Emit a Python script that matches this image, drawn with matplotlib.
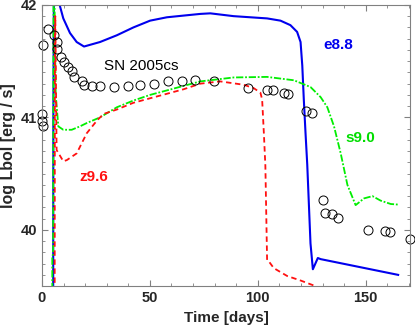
import numpy as np
import matplotlib
matplotlib.use("Agg")
import matplotlib.pyplot as plt
from matplotlib.ticker import MultipleLocator

plt.rcParams['font.family'] = ['Liberation Sans', 'DejaVu Sans']

# observed SN 2005cs bolometric light curve
obs_t = [-0.1, 0.0, 0.3, 0.3, 2.6, 5.6, 6.8, 7.1, 8.8, 10.4, 12.2, 13.8, 15.0, 18.4, 19.5,
         23.2, 26.9, 33.4, 39.8, 45.2, 51.7, 58.4, 64.9, 71.0, 79.5, 95.3, 104.3, 107.1,
         112.3, 113.9, 122.2, 124.9, 130.0, 130.9, 134.2, 137.3, 151.2, 158.8, 161.1, 170.3]
obs_L = [41.03, 40.97, 40.92, 41.64, 41.79, 41.73, 41.67, 41.61, 41.54, 41.49, 41.45, 41.41,
         41.36, 41.32, 41.29, 41.28, 41.28, 41.27, 41.28, 41.29, 41.30, 41.32, 41.32, 41.33,
         41.32, 41.26, 41.24, 41.24, 41.22, 41.21, 41.055, 41.035, 40.27, 40.15, 40.14,
         40.11, 40.00, 39.99, 39.98, 39.92]

# model e8.8
e88_t = [5.2, 5.3, 5.6, 7.5, 9.9, 13.0, 16.1, 19.5, 26.9, 34.7, 42.4, 50.1, 57.9, 65.6,
         73.4, 78.0, 88.8, 104.3, 110.5, 115.1, 118.2, 119.8, 120.6, 121.3, 122.1, 122.9,
         124.4, 125.5, 127.8, 129.1, 165.0]
e88_L = [39.0, 41.0, 42.3, 42.05, 41.88, 41.75, 41.67, 41.63, 41.67, 41.73, 41.80, 41.86,
         41.89, 41.905, 41.92, 41.925, 41.90, 41.88, 41.86, 41.82, 41.76, 41.67, 41.46,
         41.16, 40.86, 40.58, 39.88, 39.65, 39.75, 39.74, 39.60]

# model s9.0
s90_t = [4.8, 4.8, 5.2, 5.4, 5.8, 6.4, 7.6, 9.9, 13.8, 17.6, 20.8, 26.9, 34.7, 42.4, 50.1,
         57.9, 65.6, 73.4, 88.8, 104.3, 116.7, 124.4, 129.1, 132.2, 135.3, 138.4, 141.5,
         145.3, 149.2, 153.1, 156.9, 161.6, 165.0]
s90_L = [39.0, 39.75, 39.8, 42.3, 42.1, 41.2, 40.92, 40.89, 40.89, 40.92, 40.95, 41.00,
         41.09, 41.15, 41.20, 41.24, 41.28, 41.32, 41.355, 41.36, 41.33, 41.27, 41.18,
         41.09, 40.92, 40.68, 40.40, 40.22, 40.28, 40.30, 40.26, 40.23, 40.225]

# model z9.6
z96_t = [5.9, 6.0, 6.2, 6.8, 9.9, 11.5, 16.1, 20.8, 25.4, 28.5, 34.7, 42.4, 50.1, 57.9,
         65.6, 73.4, 82.6, 93.5, 98.1, 101.2, 102.0, 102.8, 103.5, 104.3, 105.1, 107.4,
         113.6, 119.8, 126.7]
z96_L = [39.0, 41.5, 41.9, 40.71, 40.61, 40.62, 40.68, 40.86, 40.97, 41.03, 41.07, 41.13,
         41.17, 41.21, 41.25, 41.30, 41.32, 41.29, 41.26, 41.22, 41.16, 40.86, 40.57, 39.73,
         39.72, 39.66, 39.59, 39.55, 39.50]

fig = plt.figure(figsize=(4.15, 3.27), dpi=100, facecolor='white')
ax = fig.add_axes([0.101, 0.125, 0.887, 0.86])

ax.plot(e88_t, e88_L, color='#0000ee', linewidth=1.5, linestyle='-')
ax.plot(s90_t, s90_L, color='#00ee00', linewidth=1.3, linestyle=(0, (4, 1, 1, 1)))
ax.plot(z96_t, z96_L, color='#ff1010', linewidth=1.3, linestyle=(0, (3, 2)))
ax.plot(obs_t, obs_L, linestyle='none', marker='o', markersize=6.5,
        markerfacecolor='none', markeredgecolor='black', markeredgewidth=0.7, clip_on=False)

ax.text(45.8, 41.46, 'SN 2005cs', fontsize=11, ha='center', va='center')
ax.text(137.2, 41.64, 'e8.8', fontsize=11, fontweight='bold', color='#0000ee', ha='center', va='center')
ax.text(147.4, 40.815, 's9.0', fontsize=11, fontweight='bold', color='#00dd00', ha='center', va='center')
ax.text(24.1, 40.47, 'z9.6', fontsize=11, fontweight='bold', color='#ff1010', ha='center', va='center')

ax.set_xlim(0, 170.5)
ax.set_ylim(39.5, 42)
ax.xaxis.set_major_locator(MultipleLocator(50))
ax.xaxis.set_minor_locator(MultipleLocator(10))
ax.yaxis.set_major_locator(MultipleLocator(1))
ax.yaxis.set_minor_locator(MultipleLocator(0.1))
ax.tick_params(which='both', direction='in', top=True, right=True, colors='#808080',
               labelcolor='#262626', labelsize=10.5)
ax.tick_params(which='major', length=4)
ax.tick_params(which='minor', length=2.5)
for lab in ax.get_xticklabels() + ax.get_yticklabels():
    lab.set_fontweight('bold')
for sp in ax.spines.values():
    sp.set_color('#808080')

ax.set_xlabel('Time [days]', fontsize=11, fontweight='bold', color='#262626', labelpad=4)
ax.set_ylabel('log Lbol [erg / s]', fontsize=11.5, fontweight='bold', color='#262626', labelpad=3)

fig.savefig('out.png', dpi=100)
